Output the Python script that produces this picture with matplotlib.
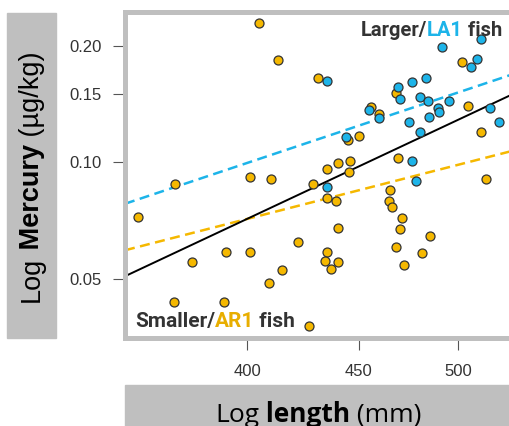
import numpy as np
import matplotlib
matplotlib.use('Agg')
import matplotlib.pyplot as plt
from matplotlib.patches import Rectangle
from matplotlib.text import Annotation
from matplotlib.ticker import NullLocator

# smaller / AR1 fish
ar1_length = [405.0, 413.3, 431.0, 401.1, 410.1, 501.9, 468.1, 505.0, 456.1, 459.9,
              512.0, 445.0, 450.1, 469.1, 435.2, 440.2, 446.0, 445.2, 514.9, 465.1,
              428.8, 356.1, 370.3, 377.1, 391.0, 401.1, 422.1, 415.0, 409.2, 370.2,
              390.2, 427.0, 435.0, 439.1, 440.1, 435.0, 434.0, 440.1, 437.1, 464.8,
              466.1, 471.0, 469.9, 485.0, 468.1, 481.0, 472.0]
ar1_mercury = [0.2287, 0.1835, 0.1649, 0.0916, 0.0904, 0.1820, 0.1513, 0.1396, 0.1387, 0.1335,
               0.1196, 0.1142, 0.1172, 0.1028, 0.0961, 0.0994, 0.1010, 0.0942, 0.0905, 0.0848,
               0.0879, 0.0723, 0.0879, 0.0551, 0.0587, 0.0586, 0.0621, 0.0527, 0.0488, 0.0435,
               0.0435, 0.0376, 0.0807, 0.0796, 0.0675, 0.0585, 0.0556, 0.0551, 0.0528, 0.0796,
               0.0765, 0.0719, 0.0672, 0.0646, 0.0603, 0.0583, 0.0543]

# larger / LA1 fish
la1_length = [435.1, 469.1, 476.1, 483.0, 491.2, 512.0, 510.1, 506.9, 470.1, 480.1,
              484.0, 495.0, 489.4, 490.1, 484.9, 474.8, 480.1, 517.0, 522.1, 455.0,
              459.9, 444.1, 476.2, 478.1, 435.0]
la1_mercury = [0.1625, 0.1568, 0.1613, 0.1649, 0.1984, 0.2087, 0.1849, 0.1764, 0.1460, 0.1475,
               0.1443, 0.1443, 0.1380, 0.1351, 0.1312, 0.1269, 0.1194, 0.1377, 0.1273, 0.1365,
               0.1299, 0.1165, 0.1006, 0.0895, 0.0865]

# fitted lines in log-log space: (mercury at 450 mm, slope)
fit_all = (0.0975, 2.643)
fit_la1 = (0.1243, 1.880)
fit_ar1 = (0.0846, 1.444)

x_ticks = [400, 450, 500]
y_ticks = [0.05, 0.10, 0.15, 0.20]
y_tick_labels = ['0.05', '0.10', '0.15', '0.20']
x_range = (351.4, 528.1)
y_range = (0.0350, 0.2439)

ORANGE = '#F5B800'
BLUE = '#1DB4E9'
DARK = '#333333'
GREY = '#bfbfbf'

plt.rcParams['font.family'] = ['Liberation Sans', 'DejaVu Sans']

fig = plt.figure(figsize=(5.1, 4.26), dpi=100)
ax = fig.add_axes([0.2451, 0.2054, 0.7549, 0.7653])
ax.set_xscale('log')
ax.set_yscale('log')

xs = np.geomspace(x_range[0], x_range[1], 50)


def fit_line(params):
    y450, slope = params
    return y450 * (xs / 450.0) ** slope


ax.plot(xs, fit_line(fit_la1), color=BLUE, lw=1.8, dashes=(4, 2.2))
ax.plot(xs, fit_line(fit_ar1), color=ORANGE, lw=1.8, dashes=(4, 2.2))
ax.plot(xs, fit_line(fit_all), color='black', lw=1.4)

ax.scatter(ar1_length, ar1_mercury, s=42, c=ORANGE, edgecolors=DARK, linewidths=0.9, zorder=3)
ax.scatter(la1_length, la1_mercury, s=42, c=BLUE, edgecolors=DARK, linewidths=0.9, zorder=3)

ax.set_xlim(*x_range)
ax.set_ylim(*y_range)
ax.set_xticks(x_ticks)
ax.set_xticklabels([str(t) for t in x_ticks])
ax.set_yticks(y_ticks)
ax.set_yticklabels(y_tick_labels)
ax.xaxis.set_minor_locator(NullLocator())
ax.yaxis.set_minor_locator(NullLocator())
ax.tick_params(direction='out', length=8.5, width=0.8, color='#555555',
               labelsize=12, labelcolor=DARK)
ax.tick_params(axis='x', pad=10)
ax.tick_params(axis='y', pad=8)

for side in ['left', 'top', 'bottom']:
    ax.spines[side].set_color(GREY)
    ax.spines[side].set_linewidth(3.6)
ax.spines['right'].set_visible(False)

# grey label boxes
fig.patches.append(Rectangle((0.0137, 0.2066), 0.0961, 0.7629, transform=fig.transFigure,
                             color=GREY, zorder=0))
fig.patches.append(Rectangle((0.2451, 0.0), 0.7549, 0.0962, transform=fig.transFigure,
                             color=GREY, zorder=0))


def rich_text(x, y, parts, size, family, rotation=0):
    # chain text pieces so each one starts where the previous ended
    prev = None
    for text, color, weight in parts:
        kw = dict(fontsize=size, family=family, color=color, weight=weight, rotation=rotation)
        if prev is None:
            if rotation:
                prev = fig.text(x, y, text, ha='center', va='bottom', **kw)
            else:
                prev = fig.text(x, y, text, ha='left', va='baseline', **kw)
            continue
        if rotation:
            ann = Annotation(text, xy=(0.5, 1), xycoords=prev, ha='center', va='bottom', **kw)
        else:
            ann = Annotation(text, xy=(1, 0), xycoords=prev, ha='left', va='bottom', **kw)
        ann.set_clip_on(False)
        fig.add_artist(ann)
        prev = ann


rich_text(0.0627, 0.291, [('Log', 'black', 'normal'), (' Mercury', 'black', 'bold'),
                          (' (µg/kg)', 'black', 'normal')], 19.5, 'Liberation Sans', rotation=90)
rich_text(0.4216, 0.01, [('Log', 'black', 'normal'), (' length', 'black', 'bold'),
                         (' (mm)', 'black', 'normal')], 19, 'Open Sans')
rich_text(0.7078, 0.9155, [('Larger/', DARK, 'bold'), ('LA1', BLUE, 'bold'),
                           (' fish', DARK, 'bold')], 14.5, 'Roboto')
rich_text(0.2647, 0.2331, [('Smaller/', DARK, 'bold'), ('AR1', '#E8AE00', 'bold'),
                           (' fish', DARK, 'bold')], 15, 'Roboto')

fig.savefig('out.png', dpi=100)
